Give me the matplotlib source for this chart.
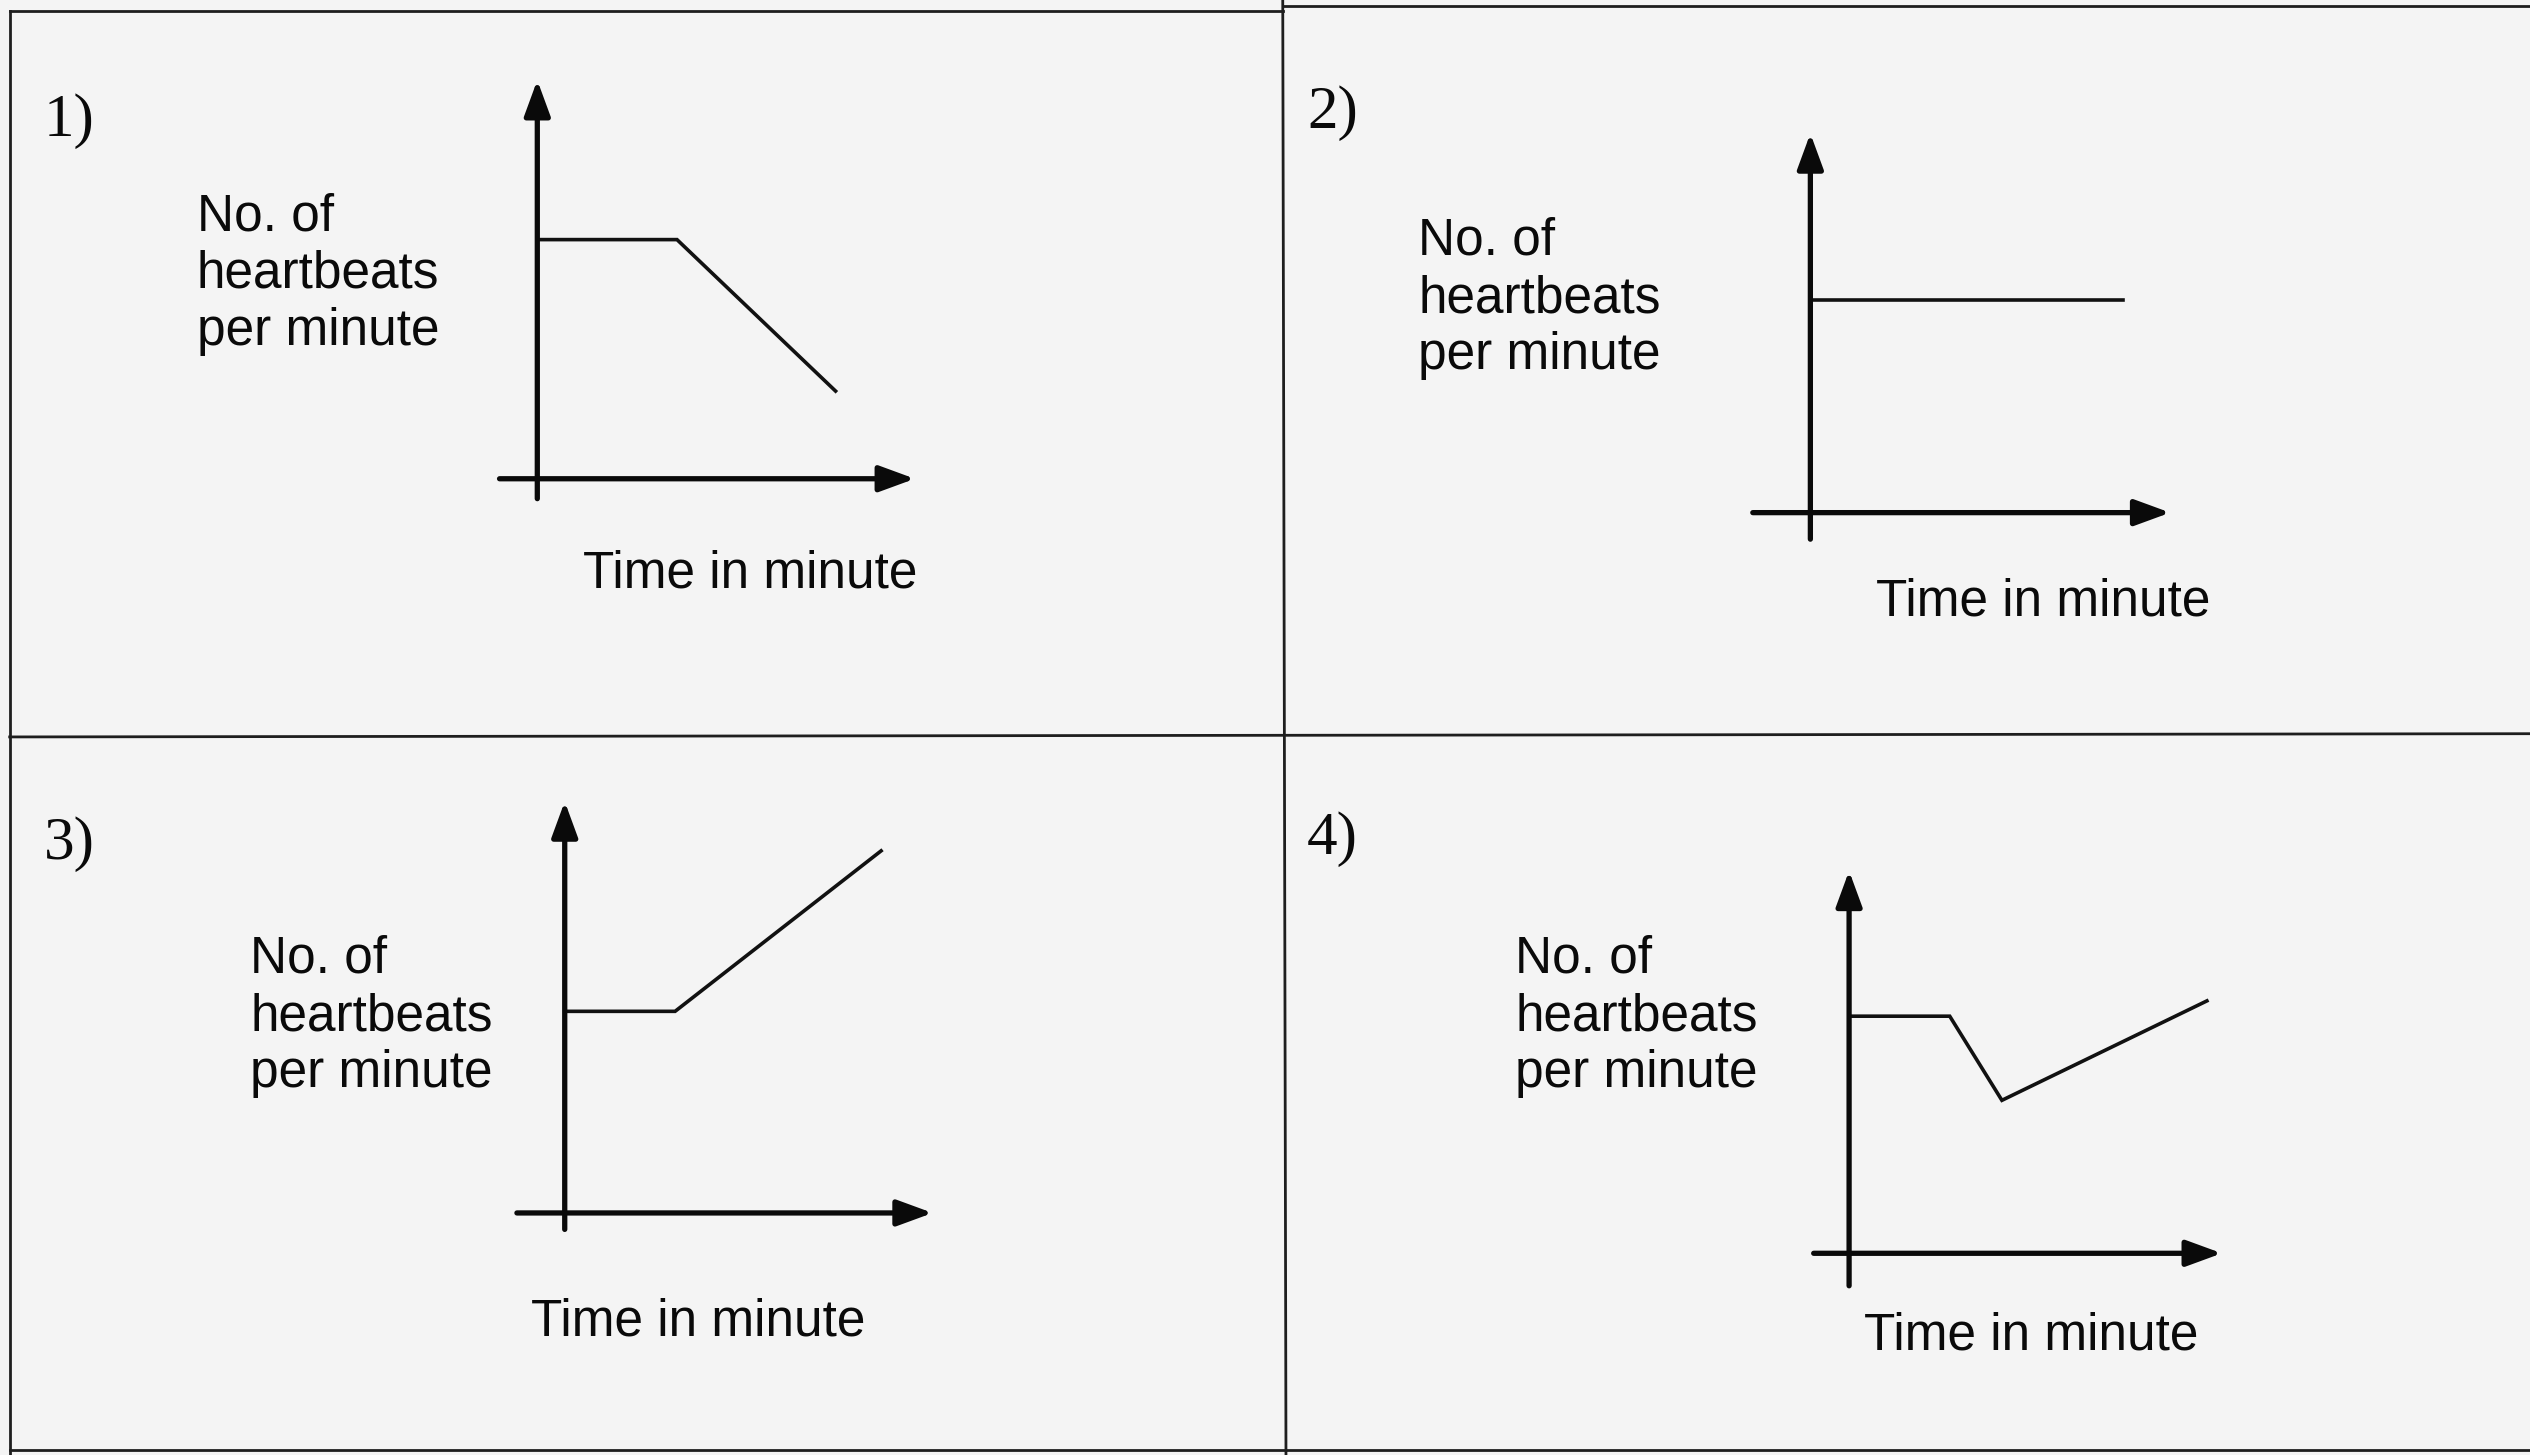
import matplotlib.pyplot as plt
from matplotlib.lines import Line2D

# four sketch graphs: heartbeats per minute against time
numbers = ["1)", "2)", "3)", "4)"]
ylabel = "No. of\nheartbeats\nper minute"
xlabel = "Time in minute"

time1 = [0, 3.7, 7.9]
beats1 = [6.0, 6.0, 2.2]
time2 = [0, 8.7]
beats2 = [5.6, 5.6]
time3 = [0, 3.0, 8.6]
beats3 = [4.9, 4.9, 8.8]
time4 = [0, 2.7, 4.1, 9.6]
beats4 = [6.2, 6.2, 4.0, 6.6]

times = [time1, time2, time3, time4]
beats = [beats1, beats2, beats3, beats4]

# layout in pixels of a 1568x902 page: origin, arrow tips, axis tails
origins = [(333, 297), (1122, 318), (350, 752), (1146, 777)]
tips = [(567, 50), (1345, 83), (578, 497), (1377, 540)]
tails = [(-1.0, -0.5), (-1.6, -0.7), (-1.3, -0.4), (-0.95, -0.85)]
num_pos = [(27, 75), (810, 70), (27, 523), (810, 520)]
ylab_pos = [(122, 170), (879, 185), (155, 630), (939, 630)]
xlab_pos = [(465, 356), (1266, 373), (433, 819), (1259, 828)]

W, H = 1568.0, 902.0
bg = "#f4f4f4"

fig = plt.figure(figsize=(25.3, 14.555), dpi=100, facecolor=bg)


def fx(x):
    return x / W


def fy(y):
    return 1 - y / H


# frame lines of the worksheet table
frame = [
    ((6, 795), (7, 7)),
    ((795, 1568), (4, 4)),
    ((6, 6), (7, 902)),
    ((795, 797), (0, 902)),
    ((6, 1568), (457, 455)),
    ((6, 1568), (899, 899)),
]
for xs, ys in frame:
    fig.add_artist(Line2D([fx(v) for v in xs], [fy(v) for v in ys],
                          color="#1e1e1e", lw=2.0))

lo, hi = -2.0, 10.5
for i in range(4):
    ox, oy = origins[i]
    tx, ty = tips[i]
    ux = (tx - ox) / 10.0
    uy = (oy - ty) / 10.0
    left = ox + lo * ux
    bottom = oy - lo * uy
    ax = fig.add_axes([fx(left), fy(bottom), (hi - lo) * ux / W, (hi - lo) * uy / H])
    ax.set_xlim(lo, hi)
    ax.set_ylim(lo, hi)
    ax.axis("off")

    ax.plot(times[i], beats[i], color="#111111", lw=2.6, solid_joinstyle="miter")

    style = "-|>,head_length=0.6,head_width=0.22"
    ax.annotate("", xy=(10, 0), xytext=(tails[i][0], 0),
                arrowprops=dict(arrowstyle=style, lw=3.8, color="#0a0a0a",
                                mutation_scale=36, shrinkA=0, shrinkB=0))
    ax.annotate("", xy=(0, 10), xytext=(0, tails[i][1]),
                arrowprops=dict(arrowstyle=style, lw=3.8, color="#0a0a0a",
                                mutation_scale=36, shrinkA=0, shrinkB=0))

    fig.text(fx(num_pos[i][0]), fy(num_pos[i][1]), numbers[i], ha="left", va="center",
             fontsize=44, family="Liberation Serif", color="#0a0a0a")
    fig.text(fx(ylab_pos[i][0]), fy(ylab_pos[i][1]), ylabel, ha="left", va="center",
             fontsize=37, family="Liberation Sans", color="#0a0a0a", linespacing=1.22)
    fig.text(fx(xlab_pos[i][0]), fy(xlab_pos[i][1]), xlabel, ha="center", va="center",
             fontsize=37, family="Liberation Sans", color="#0a0a0a")

plt.savefig("out.png", dpi=100, facecolor=bg)
